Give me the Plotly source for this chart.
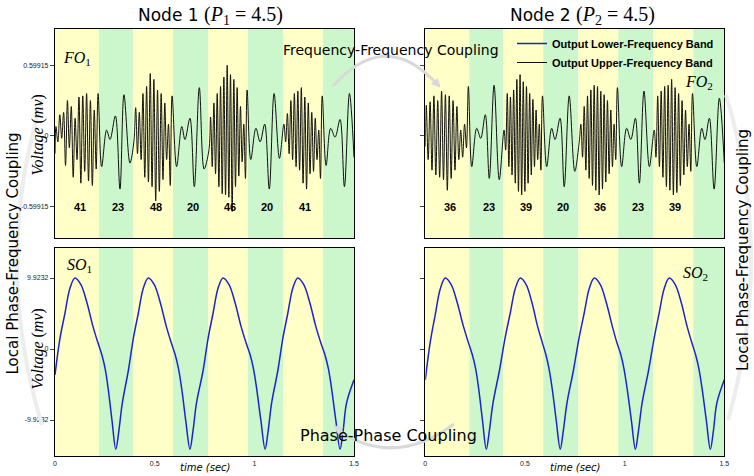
import plotly.graph_objects as go

W, H = 754, 476

# ---------------- data ----------------
band_edges = [0.0, 0.221, 0.391, 0.592, 0.768, 0.968, 1.144, 1.345, 1.5]
band_colors = ["#ffffc8", "#ccf7cc"]

node1_freqs = [41, 23, 48, 20, 46, 20, 41]
node2_freqs = [36, 23, 39, 20, 36, 23, 39]
freq_label_t = [0.125, 0.318, 0.507, 0.690, 0.878, 1.066, 1.254]

fo_tickvals = [-0.59915, 0, 0.59915]
fo_ticktext = ["-0.59915", "0", "0.59915"]
so_tickvals = [-9.9232, 0, 9.9232]
so_ticktext = ["-9.9232", "0", "9.9232"]
time_tickvals = [0, 0.5, 1, 1.5]
time_ticktext = ["0", "0.5", "1", "1.5"]

# Node 1 upper-frequency output: extrema per yellow band, explicit points in green bands
fo1_start = -0.15
fo1_yellow = [
    [0.08, -0.05, 0.18, -0.02, 0.2, -0.25, 0.3, -0.1, 0.25, -0.35, 0.15, -0.2, 0.33, -0.4, 0.34, -0.3, 0.36, -0.38, 0.3, -0.42, 0.22, -0.28, 0.36],
    [-0.05, 0.24, -0.15, 0.2, -0.2, 0.36, -0.35, 0.42, -0.39, 0.53, -0.43, 0.48, -0.55, 0.39, -0.47, 0.36, -0.37, 0.28, -0.2, 0.1, -0.42, 0.34],
    [-0.12, 0.16, -0.26, 0.28, -0.32, 0.36, -0.43, 0.42, -0.49, 0.5, -0.5, 0.6, -0.52, 0.52, -0.64, 0.48, -0.43, 0.41, -0.34, 0.25, -0.22, 0.1, -0.36, 0.39],
    [0.1, -0.05, 0.19, -0.15, 0.3, -0.2, 0.36, -0.26, 0.38, -0.29, 0.41, -0.4, 0.33, -0.45, 0.28, -0.32, 0.2, -0.3, 0.15, -0.2, 0.05, -0.36, 0.34],
]
fo1_green_t = [
    [0.234, 0.259, 0.276, 0.303, 0.326, 0.346, 0.376],
    [0.610, 0.636, 0.652, 0.677, 0.699, 0.724, 0.748],
    [0.982, 1.008, 1.029, 1.052, 1.075, 1.099, 1.126],
    [1.360, 1.383, 1.405, 1.430, 1.452, 1.477, 1.500],
]
fo1_green_v = [
    [-0.26, 0.05, -0.03, 0.17, -0.45, 0.35, -0.23],
    [-0.26, 0.08, -0.03, 0.15, -0.43, 0.41, -0.28],
    [-0.20, 0.065, -0.05, 0.10, -0.45, 0.36, -0.19],
    [-0.25, 0.065, -0.01, 0.14, -0.43, 0.36, -0.18],
]

# Node 2 upper-frequency output
fo2_start = -0.09
fo2_yellow = [
    [0.26, -0.2, 0.29, -0.29, 0.34, -0.33, 0.3, -0.35, 0.38, -0.37, 0.35, -0.46, 0.34, -0.36, 0.3, -0.29, 0.25, -0.2, 0.05, -0.18, 0.1, -0.1, 0.42],
    [0.05, -0.12, 0.36, -0.26, 0.33, -0.33, 0.39, -0.4, 0.48, -0.47, 0.52, -0.5, 0.46, -0.47, 0.42, -0.4, 0.36, -0.33, 0.31, -0.26, 0.22, -0.2, 0.1, -0.29, 0.34],
    [-0.05, 0.1, -0.18, 0.25, -0.29, 0.34, -0.36, 0.39, -0.42, 0.43, -0.46, 0.42, -0.5, 0.38, -0.45, 0.35, -0.39, 0.3, -0.32, 0.22, -0.26, 0.1, -0.2, 0.41],
    [0.05, -0.18, 0.34, -0.26, 0.38, -0.35, 0.42, -0.43, 0.43, -0.46, 0.48, -0.5, 0.41, -0.48, 0.36, -0.42, 0.3, -0.33, 0.22, -0.26, 0.1, -0.3, 0.36],
]
fo2_green_t = [
    [0.233, 0.258, 0.278, 0.301, 0.321, 0.345, 0.371],
    [0.609, 0.634, 0.651, 0.676, 0.697, 0.722, 0.750],
    [0.985, 1.010, 1.031, 1.054, 1.074, 1.097, 1.124],
    [1.362, 1.387, 1.403, 1.425, 1.449, 1.475, 1.500],
]
fo2_green_v = [
    [-0.26, 0.065, -0.02, 0.18, -0.36, 0.43, -0.37],
    [-0.26, 0.065, -0.03, 0.15, -0.43, 0.34, -0.30],
    [-0.26, 0.065, -0.03, 0.15, -0.40, 0.38, -0.26],
    [-0.26, 0.065, -0.03, 0.15, -0.45, 0.32, -0.23],
]

# Lower-frequency outputs (slow oscillation)
so1_t = [0.000, 0.025, 0.050, 0.075, 0.100, 0.130, 0.160, 0.190, 0.215, 0.235, 0.252, 0.268, 0.286, 0.305,
         0.320, 0.338, 0.368, 0.393, 0.418, 0.443, 0.468, 0.498, 0.528, 0.558, 0.583, 0.603, 0.620, 0.637, 0.656, 0.677,
         0.692, 0.710, 0.743, 0.768, 0.793, 0.818, 0.843, 0.873, 0.903, 0.933, 0.958, 0.979, 0.996, 1.013, 1.033, 1.054,
         1.069, 1.087, 1.118, 1.143, 1.168, 1.193, 1.218, 1.248, 1.278, 1.308, 1.333, 1.354, 1.372, 1.389, 1.409, 1.430,
         1.445, 1.463, 1.500]
so1_v = [-3.6, 1.5, 5.0, 8.5, 9.92, 9.0, 6.5, 3.2, 0.9, -0.8, -2.8, -5.8, -10.0, -14.0,
         -11.5, -7.5, -3.0, 1.5, 5.0, 8.5, 9.92, 9.0, 6.5, 3.2, 0.9, -0.8, -2.8, -5.8, -10.0, -14.0,
         -11.5, -7.5, -3.0, 1.5, 5.0, 8.5, 9.92, 9.0, 6.5, 3.2, 0.9, -0.8, -2.8, -5.8, -10.0, -14.0,
         -11.5, -7.5, -3.0, 1.5, 5.0, 8.5, 9.92, 9.0, 6.5, 3.2, 0.9, -0.8, -2.8, -5.8, -10.0, -14.0,
         -11.5, -7.5, -4.3]
so2_t = [0.000, 0.025, 0.050, 0.075, 0.100, 0.130, 0.160, 0.190, 0.215, 0.236, 0.253, 0.269, 0.287, 0.306,
         0.321, 0.340, 0.372, 0.400, 0.426, 0.452, 0.477, 0.506, 0.535, 0.563, 0.587, 0.605, 0.621, 0.638, 0.657, 0.677,
         0.692, 0.711, 0.743, 0.771, 0.797, 0.823, 0.848, 0.878, 0.908, 0.938, 0.961, 0.981, 0.997, 1.014, 1.034, 1.054,
         1.069, 1.088, 1.120, 1.148, 1.173, 1.199, 1.224, 1.254, 1.284, 1.313, 1.337, 1.356, 1.373, 1.390, 1.410, 1.430,
         1.445, 1.463, 1.500]
so2_v = [-4.3, 1.0, 4.8, 8.4, 9.92, 9.0, 6.5, 3.3, 1.0, -0.8, -2.8, -5.8, -10.0, -14.0,
         -11.5, -7.5, -3.0, 1.5, 5.0, 8.5, 9.92, 9.0, 6.5, 3.2, 0.9, -0.8, -2.8, -5.8, -10.0, -14.0,
         -11.5, -7.5, -3.0, 1.5, 5.0, 8.5, 9.92, 9.0, 6.5, 3.2, 0.9, -0.8, -2.8, -5.8, -10.0, -14.0,
         -11.5, -7.5, -3.0, 1.5, 5.0, 8.5, 9.92, 9.0, 6.5, 3.2, 0.9, -0.8, -2.8, -5.8, -10.0, -14.0,
         -11.5, -7.5, -4.3]


def build_fo(start, yellow, green_t, green_v):
    t, v = [0.0], [start]
    for i in range(4):
        a, b = band_edges[2 * i], band_edges[2 * i + 1]
        vals = yellow[i]
        dt = (b - a) / len(vals)
        for k, val in enumerate(vals):
            t.append(a + (k + 0.5) * dt)
            v.append(val)
        t.extend(green_t[i])
        v.extend(green_v[i])
    return t, v


fo1_t, fo1_v = build_fo(fo1_start, fo1_yellow, fo1_green_t, fo1_green_v)
fo2_t, fo2_v = build_fo(fo2_start, fo2_yellow, fo2_green_t, fo2_green_v)

# ---------------- figure ----------------
BLACK = "#111111"
BLUE = "rgb(28,38,200)"

fig = go.Figure()
fig.add_trace(go.Scatter(x=fo1_t, y=fo1_v, mode="lines", xaxis="x", yaxis="y",
                         line=dict(color=BLACK, width=1, shape="spline"),
                         name="Output Upper-Frequency Band", legendrank=2, showlegend=True))
fig.add_trace(go.Scatter(x=fo2_t, y=fo2_v, mode="lines", xaxis="x2", yaxis="y2",
                         line=dict(color=BLACK, width=1, shape="spline"), showlegend=False))
fig.add_trace(go.Scatter(x=so1_t, y=so1_v, mode="lines", xaxis="x3", yaxis="y3",
                         line=dict(color=BLUE, width=1.5, shape="spline"),
                         name="Output Lower-Frequency Band", legendrank=1, showlegend=True))
fig.add_trace(go.Scatter(x=so2_t, y=so2_v, mode="lines", xaxis="x4", yaxis="y4",
                         line=dict(color=BLUE, width=1.5, shape="spline"), showlegend=False))

L_DOM = [55 / W, 354 / W]
R_DOM = [425.3 / W, 724.3 / W]
T_DOM = [1 - 238 / H, 1 - 29 / H]
B_DOM = [1 - 456 / H, 1 - 248 / H]

tickfont = dict(family="Liberation Sans", size=7, color="#222222")
frame = dict(showline=True, mirror=True, linecolor="black", linewidth=1.3,
             showgrid=False, zeroline=False, automargin=False)

fo_range = [-0.865, 0.907]
so_range = [-14.95, 14.12]

layout_axes = dict(
    xaxis=dict(domain=L_DOM, range=[0, 1.5], anchor="y", showticklabels=False, ticks="", **frame),
    xaxis2=dict(domain=R_DOM, range=[0, 1.5], anchor="y2", showticklabels=False, ticks="", **frame),
    xaxis3=dict(domain=L_DOM, range=[0, 1.5], anchor="y3", tickvals=time_tickvals, ticktext=time_ticktext,
                ticks="", tickfont=tickfont, **frame),
    xaxis4=dict(domain=R_DOM, range=[0, 1.5], anchor="y4", tickvals=time_tickvals, ticktext=time_ticktext,
                ticks="", tickfont=tickfont, **frame),
    yaxis=dict(domain=T_DOM, range=fo_range, anchor="x", tickvals=fo_tickvals, ticktext=fo_ticktext,
               ticks="outside", ticklen=4, tickcolor="#444", tickfont=tickfont, **frame),
    yaxis2=dict(domain=T_DOM, range=fo_range, anchor="x2", tickvals=fo_tickvals, showticklabels=False,
                ticks="outside", ticklen=4, tickcolor="#444", **frame),
    yaxis3=dict(domain=B_DOM, range=so_range, anchor="x3", tickvals=so_tickvals, ticktext=so_ticktext,
                ticks="outside", ticklen=4, tickcolor="#444", tickfont=tickfont, **frame),
    yaxis4=dict(domain=B_DOM, range=so_range, anchor="x4", tickvals=so_tickvals, showticklabels=False,
                ticks="outside", ticklen=4, tickcolor="#444", **frame),
)

shapes = []
for xr, yr in [("x", "y domain"), ("x2", "y2 domain"), ("x3", "y3 domain"), ("x4", "y4 domain")]:
    for i in range(len(band_edges) - 1):
        shapes.append(dict(type="rect", xref=xr, yref=yr, x0=band_edges[i], x1=band_edges[i + 1],
                           y0=0, y1=1, fillcolor=band_colors[i % 2], line=dict(width=0), layer="below"))


def P(x, y):
    return f"{x / W:.5f} {1 - y / H:.5f}"


GRAY = "#d9d9d9"
FAINT = "#ededed"
deco = [
    (f"M {P(333, 86)} Q {P(385, 28)} {P(436, 83)}", None, 3, GRAY),
    (f"M {P(440, 87)} L {P(431.7, 83.9)} L {P(437.5, 78.5)} Z", GRAY, 1, GRAY),
    (f"M {P(454, 424)} Q {P(395, 468)} {P(339, 431)}", None, 3, GRAY),
    (f"M {P(334, 426)} L {P(342.9, 427.2)} L {P(338.3, 433.8)} Z", GRAY, 1, GRAY),
    (f"M {P(42, 100)} Q {P(-8, 262)} {P(42, 425)}", None, 4, FAINT),
    (f"M {P(726, 95)} Q {P(775, 255)} {P(728, 420)}", None, 4, FAINT),
]
for path, fill, wdt, col in deco:
    shapes.append(dict(type="path", xref="paper", yref="paper", path=path,
                       line=dict(color=col, width=wdt),
                       fillcolor=fill if fill else "rgba(0,0,0,0)", layer="above"))

annotations = []


def ann(x, y, text, size, family="DejaVu Sans", angle=0, color="black", xanchor="center"):
    annotations.append(dict(x=x / W, y=1 - y / H, xref="paper", yref="paper", text=text, showarrow=False,
                            font=dict(family=family, size=size, color=color), textangle=angle,
                            xanchor=xanchor, yanchor="middle"))


SERIF = "Liberation Serif"
ann(210, 15, "Node 1 <span style='font-family:Liberation Serif;font-size:20px'>(<i>P</i><sub>1</sub> = 4.5)</span>", 17)
ann(582, 15, "Node 2 <span style='font-family:Liberation Serif;font-size:20px'>(<i>P</i><sub>2</sub> = 4.5)</span>", 17)
ann(391, 50, "Frequency-Frequency Coupling", 14)
ann(388, 435, "Phase-Phase Coupling", 16)
ann(12.5, 254, "Local Phase-Frequency Coupling", 15, angle=-90)
ann(743, 250, "Local Phase-Frequency Coupling", 15, angle=-90)
ann(37.5, 135, "<i>Voltage</i> (<i>mv</i>)", 16, family=SERIF, angle=-90)
ann(37.5, 349, "<i>Voltage</i> (<i>mv</i>)", 16, family=SERIF, angle=-90)
ann(204.5, 467, "<i>time (sec)</i>", 10)
ann(575, 467, "<i>time (sec)</i>", 10)
ann(77, 58, "<i>FO</i><sub>1</sub>", 16, family=SERIF)
ann(699, 82, "<i>FO</i><sub>2</sub>", 16, family=SERIF)
ann(79, 265, "<i>SO</i><sub>1</sub>", 16, family=SERIF)
ann(695, 273, "<i>SO</i><sub>2</sub>", 16, family=SERIF)

for tx, f in zip(freq_label_t, node1_freqs):
    annotations.append(dict(x=tx, y=-0.59915, xref="x", yref="y", text=f"<b>{f}</b>", showarrow=False,
                            font=dict(family="Liberation Sans", size=11, color="black")))
for tx, f in zip(freq_label_t, node2_freqs):
    annotations.append(dict(x=tx, y=-0.59915, xref="x2", yref="y2", text=f"<b>{f}</b>", showarrow=False,
                            font=dict(family="Liberation Sans", size=11, color="black")))

fig.update_layout(
    width=W, height=H,
    margin=dict(l=0, r=0, t=0, b=0, autoexpand=False),
    paper_bgcolor="white", plot_bgcolor="white",
    shapes=shapes, annotations=annotations,
    legend=dict(x=512 / W, y=1 - 29 / H, xanchor="left", yanchor="top",
                bgcolor="rgba(0,0,0,0)", borderwidth=0,
                font=dict(family="Liberation Sans", size=11, color="black", weight="bold"),
                tracegroupgap=0),
    **layout_axes,
)

fig.write_html("out.html", config={"displayModeBar": False},
               post_script="document.body.style.margin='0';document.body.style.overflow='hidden';")
